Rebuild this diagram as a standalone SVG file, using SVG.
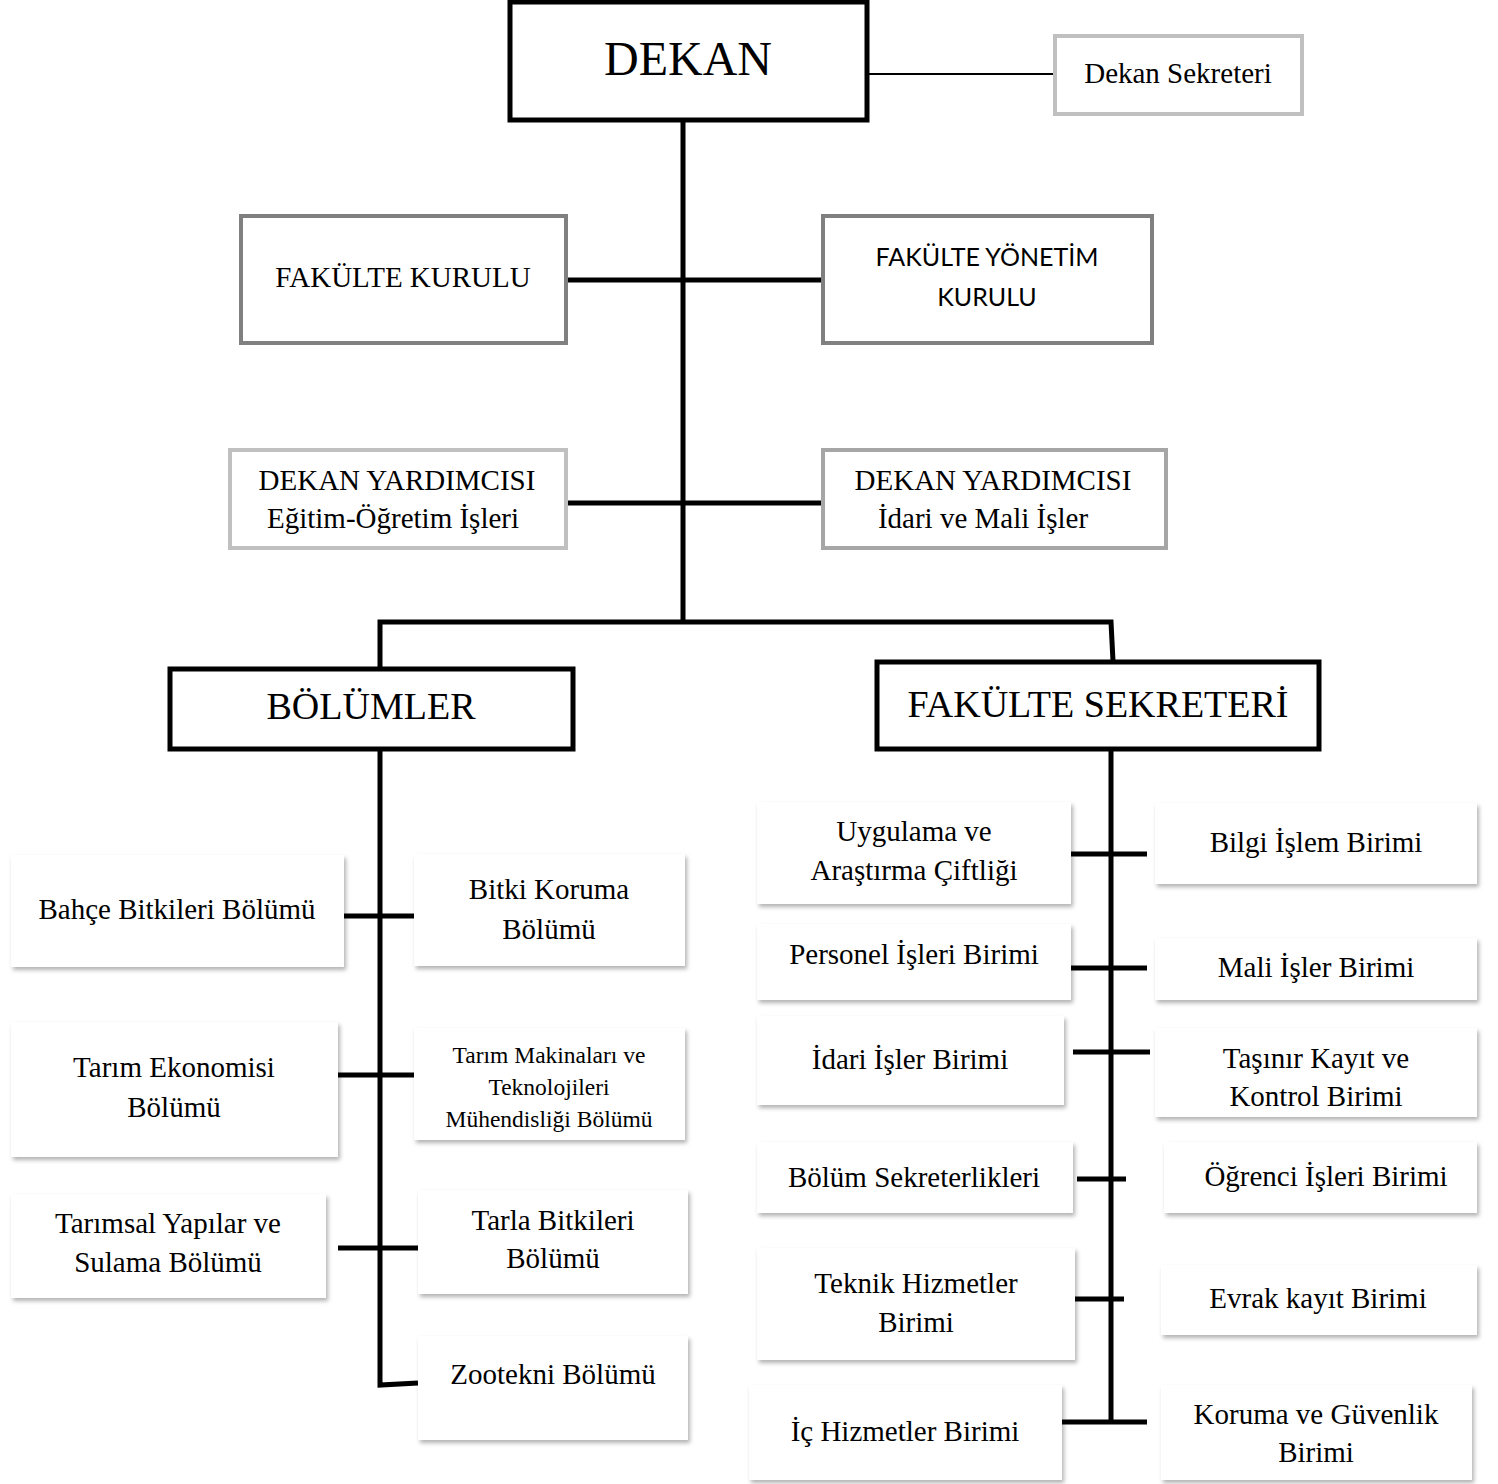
<svg xmlns="http://www.w3.org/2000/svg" width="1498" height="1484" viewBox="0 0 1498 1484">
<defs>
<filter id="sh" x="-10%" y="-10%" width="120%" height="125%">
<feDropShadow dx="2" dy="3" stdDeviation="2" flood-color="#000" flood-opacity="0.3"/>
</filter>
</defs>
<style>
text{font-family:"Liberation Serif","Times New Roman",serif;fill:#000;text-anchor:middle}
.t{font-size:29px}
.big{font-size:38px}
.sm{font-size:23.5px}
.sans{font-family:Lato,"Liberation Sans",sans-serif;font-size:25px}
.main{fill:#fff;stroke:#000;stroke-width:5}
.lg{fill:#fff;stroke:#c0c0c0;stroke-width:4}
.dg{fill:#fff;stroke:#808080;stroke-width:4}
.mg{fill:#fff;stroke:#a6a6a6;stroke-width:4}
.sb{fill:#fff;filter:url(#sh)}
.c{stroke:#000;stroke-width:5;fill:none}
.thin{stroke:#000;stroke-width:2;fill:none}
</style>
<rect width="1498" height="1484" fill="#fff"/>
<g id="connectors">
<line class="thin" x1="868" y1="74" x2="1054" y2="74"/>
<line class="c" x1="683" y1="121" x2="683" y2="622"/>
<line class="c" x1="566" y1="280" x2="822" y2="280"/>
<line class="c" x1="566" y1="503" x2="822" y2="503"/>
<polyline class="c" points="380,668 380,622 1111,622 1113,661"/>
<polyline class="c" points="380,750 380,1385 418,1383"/>
<line class="c" x1="1111" y1="750" x2="1111" y2="1422"/>
<line class="c" x1="344" y1="916" x2="414" y2="916"/>
<line class="c" x1="338" y1="1075" x2="414" y2="1075"/>
<line class="c" x1="338" y1="1248" x2="418" y2="1248"/>
<line class="c" x1="1071" y1="854" x2="1147" y2="854"/>
<line class="c" x1="1071" y1="968" x2="1147" y2="968"/>
<line class="c" x1="1073" y1="1052" x2="1150" y2="1052"/>
<line class="c" x1="1077" y1="1179" x2="1126" y2="1179"/>
<line class="c" x1="1075" y1="1299" x2="1124" y2="1299"/>
<line class="c" x1="1062" y1="1422" x2="1147" y2="1422"/>
</g>
<g id="dekan"><rect class="main" x="510" y="2" width="357" height="118"/><text x="688" y="75" style="font-size:48px">DEKAN</text></g>
<g id="dekan-sekreteri"><rect class="lg" x="1055" y="36" width="247" height="78"/><text class="t" x="1178" y="83">Dekan Sekreteri</text></g>
<g id="fakulte-kurulu"><rect class="dg" x="241" y="216" width="325" height="127"/><text class="t" x="403" y="287">FAKÜLTE KURULU</text></g>
<g id="fakulte-yonetim-kurulu"><rect class="dg" x="823" y="216" width="329" height="127"/><text class="sans" x="987" y="266">FAKÜLTE YÖNETİM</text><text class="sans" x="987" y="306">KURULU</text></g>
<g id="dekan-yrd-egitim"><rect class="lg" x="230" y="450" width="336" height="98"/><text class="t" x="397" y="490">DEKAN YARDIMCISI</text><text class="t" x="393" y="528">Eğitim-Öğretim İşleri</text></g>
<g id="dekan-yrd-idari"><rect class="mg" x="823" y="450" width="343" height="98"/><text class="t" x="993" y="490">DEKAN YARDIMCISI</text><text class="t" x="983" y="528">İdari ve Mali İşler</text></g>
<g id="bolumler"><rect class="main" x="170" y="669" width="403" height="80"/><text class="big" x="371" y="719">BÖLÜMLER</text></g>
<g id="fakulte-sekreteri"><rect class="main" x="877" y="662" width="442" height="87"/><text class="big" x="1098" y="717">FAKÜLTE SEKRETERİ</text></g>
<g id="bahce"><rect class="sb" x="11" y="855" width="333" height="112"/><text class="t" x="177" y="919">Bahçe Bitkileri Bölümü</text></g>
<g id="bitki-koruma"><rect class="sb" x="414" y="854" width="271" height="112"/><text class="t" x="549" y="899">Bitki Koruma</text><text class="t" x="549" y="939">Bölümü</text></g>
<g id="tarim-ekonomisi"><rect class="sb" x="11" y="1022" width="327" height="135"/><text class="t" x="174" y="1077">Tarım Ekonomisi</text><text class="t" x="174" y="1117">Bölümü</text></g>
<g id="tarim-makinalari"><rect class="sb" x="414" y="1028" width="271" height="112"/><text class="sm" x="549" y="1063">Tarım Makinaları ve</text><text class="sm" x="549" y="1095">Teknolojileri</text><text class="sm" x="549" y="1127">Mühendisliği Bölümü</text></g>
<g id="tarimsal-yapilar"><rect class="sb" x="11" y="1194" width="315" height="104"/><text class="t" x="168" y="1233">Tarımsal Yapılar ve</text><text class="t" x="168" y="1272">Sulama Bölümü</text></g>
<g id="tarla"><rect class="sb" x="418" y="1190" width="270" height="104"/><text class="t" x="553" y="1230">Tarla Bitkileri</text><text class="t" x="553" y="1268">Bölümü</text></g>
<g id="zootekni"><rect class="sb" x="418" y="1336" width="270" height="104"/><text class="t" x="553" y="1384">Zootekni Bölümü</text></g>
<g id="uygulama"><rect class="sb" x="757" y="802" width="314" height="102"/><text class="t" x="914" y="841">Uygulama ve</text><text class="t" x="914" y="880">Araştırma Çiftliği</text></g>
<g id="bilgi-islem"><rect class="sb" x="1155" y="803" width="322" height="81"/><text class="t" x="1316" y="852">Bilgi İşlem Birimi</text></g>
<g id="personel"><rect class="sb" x="757" y="924" width="314" height="76"/><text class="t" x="914" y="964">Personel İşleri Birimi</text></g>
<g id="mali-isler"><rect class="sb" x="1155" y="938" width="322" height="62"/><text class="t" x="1316" y="977">Mali İşler Birimi</text></g>
<g id="idari-isler"><rect class="sb" x="757" y="1016" width="307" height="89"/><text class="t" x="910" y="1069">İdari İşler Birimi</text></g>
<g id="tasinir"><rect class="sb" x="1155" y="1028" width="322" height="89"/><text class="t" x="1316" y="1068">Taşınır Kayıt ve</text><text class="t" x="1316" y="1106">Kontrol Birimi</text></g>
<g id="bolum-sekreterlikleri"><rect class="sb" x="757" y="1142" width="316" height="71"/><text class="t" x="914" y="1187">Bölüm Sekreterlikleri</text></g>
<g id="ogrenci-isleri"><rect class="sb" x="1164" y="1142" width="313" height="71"/><text class="t" x="1326" y="1186">Öğrenci İşleri Birimi</text></g>
<g id="teknik-hizmetler"><rect class="sb" x="757" y="1248" width="318" height="112"/><text class="t" x="916" y="1293">Teknik Hizmetler</text><text class="t" x="916" y="1332">Birimi</text></g>
<g id="evrak-kayit"><rect class="sb" x="1161" y="1265" width="316" height="70"/><text class="t" x="1318" y="1308">Evrak kayıt Birimi</text></g>
<g id="ic-hizmetler"><rect class="sb" x="749" y="1385" width="313" height="95"/><text class="t" x="905" y="1441">İç Hizmetler Birimi</text></g>
<g id="koruma"><rect class="sb" x="1161" y="1385" width="311" height="95"/><text class="t" x="1316" y="1424">Koruma ve Güvenlik</text><text class="t" x="1316" y="1462">Birimi</text></g>
</svg>
